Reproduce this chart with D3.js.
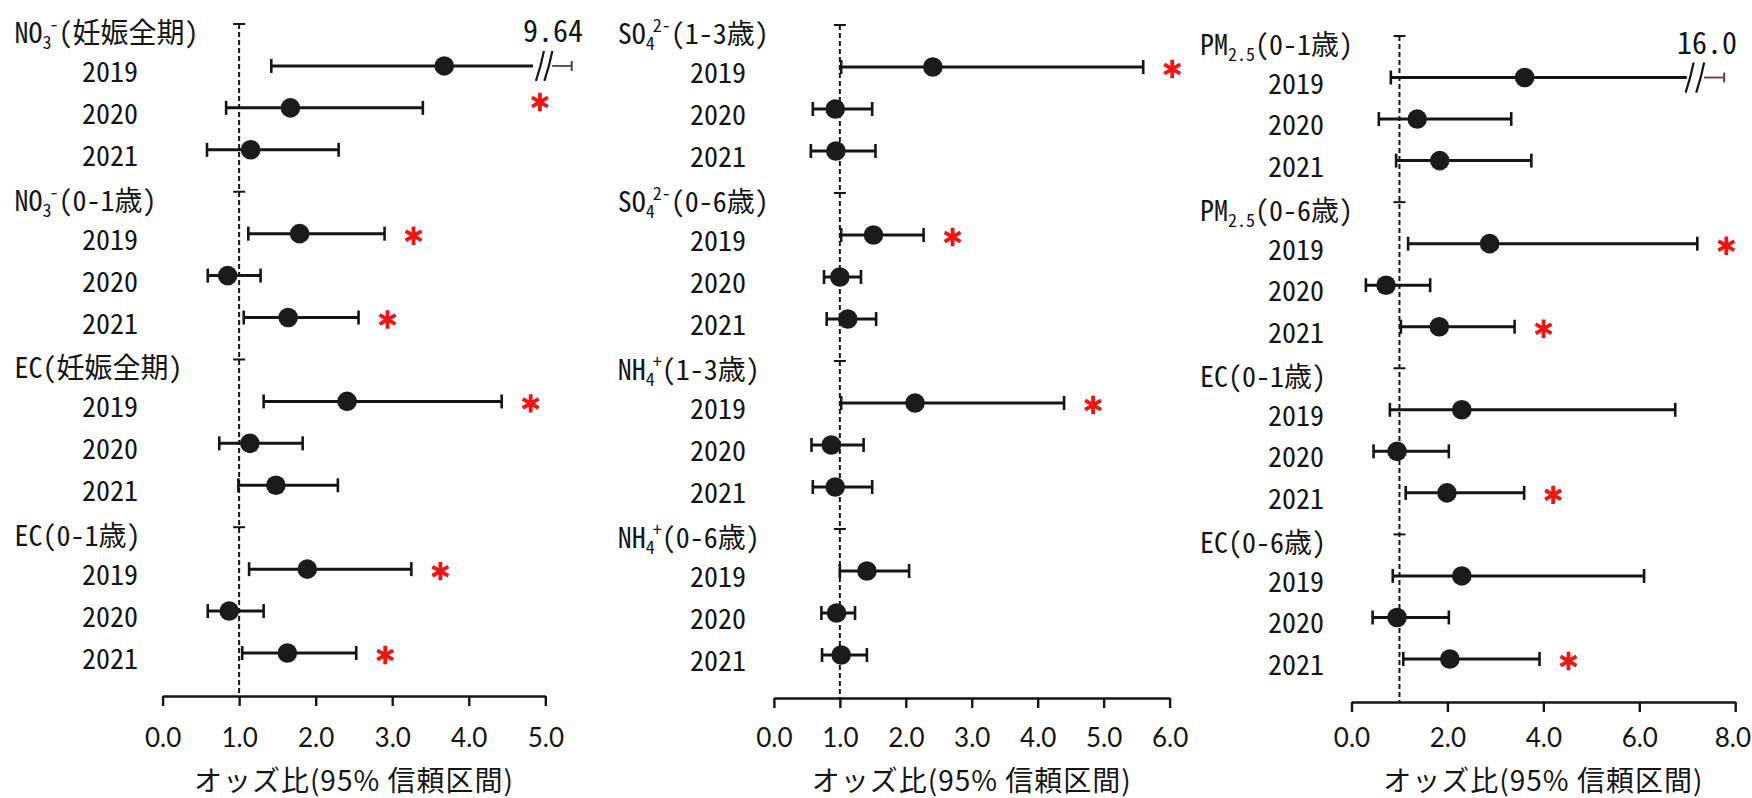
<!DOCTYPE html>
<html lang="ja">
<head>
<meta charset="utf-8">
<script src="https://cdn.jsdelivr.net/npm/d3@7"></script>
<style>
  html, body { margin: 0; padding: 0; background: #ffffff; }
  svg { display: block; }
</style>
</head>
<body>
<svg id="chart" width="1752" height="798"></svg>
<script>
// ---- data -----------------------------------------------------------
const years = ["2019", "2020", "2021"];

// left panel: NO3-, EC
const groupsL = [
  ["NO", "_3", "^-", "(妊娠全期)"],
  ["NO", "_3", "^-", "(0-1歳)"],
  ["EC", "(妊娠全期)"],
  ["EC", "(0-1歳)"]
];
const orL  = [3.68, 1.67, 1.15, 1.79, 0.85, 1.64, 2.41, 1.14, 1.48, 1.89, 0.87, 1.63];
const lowL = [1.42, 0.83, 0.58, 1.12, 0.59, 1.06, 1.32, 0.74, 0.99, 1.13, 0.59, 1.04];
const upL  = [9.64, 3.40, 2.30, 2.90, 1.28, 2.56, 4.43, 1.83, 2.29, 3.25, 1.32, 2.53];
const sigL = [1, 0, 0, 1, 0, 1, 1, 0, 0, 1, 0, 1];
const ticksL = [0, 1, 2, 3, 4, 5];

// middle panel: SO4 2-, NH4+
const groupsM = [
  ["SO", "_4", "^2-", "(1-3歳)"],
  ["SO", "_4", "^2-", "(0-6歳)"],
  ["NH", "_4", "^+", "(1-3歳)"],
  ["NH", "_4", "^+", "(0-6歳)"]
];
const orM  = [2.41, 0.93, 0.94, 1.51, 1.00, 1.12, 2.14, 0.87, 0.93, 1.41, 0.95, 1.02];
const lowM = [1.02, 0.59, 0.56, 1.02, 0.76, 0.80, 1.02, 0.57, 0.59, 1.00, 0.72, 0.73];
const upM  = [5.60, 1.49, 1.54, 2.27, 1.32, 1.55, 4.40, 1.36, 1.49, 2.05, 1.23, 1.41];
const sigM = [1, 0, 0, 1, 0, 0, 1, 0, 0, 0, 0, 0];
const ticksM = [0, 1, 2, 3, 4, 5, 6];

// right panel: PM2.5, EC
const groupsR = [
  ["PM", "_2.5", "(0-1歳)"],
  ["PM", "_2.5", "(0-6歳)"],
  ["EC", "(0-1歳)"],
  ["EC", "(0-6歳)"]
];
const orR  = [3.61, 1.37, 1.84, 2.88, 0.72, 1.83, 2.30, 0.95, 1.99, 2.30, 0.95, 2.05];
const lowR = [0.82, 0.57, 0.93, 1.18, 0.30, 1.03, 0.80, 0.46, 1.13, 0.86, 0.44, 1.08];
const upR  = [16.0, 3.33, 3.75, 7.21, 1.64, 3.40, 6.75, 2.03, 3.60, 6.10, 2.03, 3.92];
const sigR = [0, 0, 0, 1, 0, 1, 0, 0, 1, 0, 0, 1];
const ticksR = [0, 2, 4, 6, 8];

const axisTitle = "オッズ比(95% 信頼区間)";

// ---- layout ---------------------------------------------------------
const panels = [
  { groups: groupsL, or: orL, low: lowL, up: upL, sig: sigL, ticks: ticksL,
    x0: 162.6, x1: 545.3, yTop: 24, yBot: 653, axisY: 696, labelX: 14.5, yearX: 138,
    brk: { lineEnd: 4.84, s1: 4.93, s2: 5.04, from: 5.09, cap: 5.345, label: 5.1 },
    stub: "#3d4178" },
  { groups: groupsM, or: orM, low: lowM, up: upM, sig: sigM, ticks: ticksM,
    x0: 773.9, x1: 1169.6, yTop: 25, yBot: 655, axisY: 698, labelX: 617.8, yearX: 746,
    brk: null },
  { groups: groupsR, or: orR, low: lowR, up: upR, sig: sigR, ticks: ticksR,
    x0: 1351.5, x1: 1735.2, yTop: 36, yBot: 659, axisY: 702, labelX: 1200, yearX: 1324,
    brk: { lineEnd: 6.99, s1: 7.05, s2: 7.27, from: 7.35, cap: 7.77, label: 7.41 },
    stub: "#7b3344" }
];

const labelFont = "'Noto Sans Mono CJK JP', 'Noto Sans CJK JP', sans-serif";
const tickFont = "Lato, 'Open Sans', sans-serif";
const titleFont = "'Noto Sans CJK JP', sans-serif";
const ink = "#151515";
const tickLabelBaseline = 747;
const titleBaseline = 791;
const width = 1752;

const svg = d3.select("#chart");

// header label with sub/superscripts ("_" = subscript, "^" = superscript)
function addSegments(text, segs) {
  let shift = 0;
  let prevSub = false;
  segs.forEach(s => {
    let target = 0, size = 28, txt = s, dx = 0;
    if (s[0] === "_") { target = 6; size = 18; txt = s.slice(1); }
    else if (s[0] === "^") { target = -12; size = 18; txt = s.slice(1); if (prevSub) dx = -2; }
    text.append("tspan")
      .attr("dx", dx)
      .attr("dy", target - shift)
      .style("font-size", size + "px")
      .text(txt);
    shift = target;
    prevSub = s[0] === "_";
  });
}

panels.forEach(p => {
  const g = svg.append("g");
  const maxTick = d3.max(p.ticks);
  const ax = d3.scaleLinear().domain([0, maxTick]).range([p.x0, p.x1]);
  const maxUp = d3.max(p.up);
  // plotting scale: linear up to the break, then compressed to the capped end
  const px = p.brk
    ? d3.scaleLinear().domain([0, p.brk.from, maxUp]).range([ax(0), ax(p.brk.from), ax(p.brk.cap)])
    : ax;
  const y = d3.scaleLinear().domain([0, 15]).range([p.yTop, p.yBot]);

  // reference line at OR = 1
  g.append("line")
    .attr("x1", ax(1)).attr("x2", ax(1))
    .attr("y1", y(0)).attr("y2", p.axisY)
    .attr("stroke", ink).attr("stroke-width", 2)
    .attr("stroke-dasharray", "5,3");

  // x axis
  const axis = d3.axisBottom(ax)
    .tickValues(p.ticks)
    .tickFormat(d3.format(".1f"))
    .tickSizeInner(10)
    .tickSizeOuter(0);
  const axG = g.append("g")
    .attr("transform", `translate(0,${p.axisY})`)
    .call(axis);
  axG.select(".domain").attr("stroke", ink).attr("stroke-width", 2.6);
  axG.selectAll(".tick line").attr("stroke", ink).attr("stroke-width", 2.4);
  axG.selectAll(".tick text")
    .attr("y", tickLabelBaseline - p.axisY)
    .attr("dy", 0)
    .attr("fill", ink)
    .style("font-family", tickFont)
    .style("font-size", "26px")
    .each(function () {
      // keep the outermost label inside the drawing area
      const b = this.getBBox();
      const tx = this.parentNode.transform.baseVal.consolidate().matrix.e;
      const over = tx + b.x + b.width - (width - 1);
      if (over > 0) d3.select(this).attr("dx", -over);
    });

  g.append("text")
    .attr("x", (p.x0 + p.x1) / 2)
    .attr("y", titleBaseline)
    .attr("text-anchor", "middle")
    .attr("fill", ink)
    .style("font-family", titleFont)
    .style("font-size", "28px")
    .style("letter-spacing", "1px")
    .text(axisTitle);

  // group headers
  p.groups.forEach((segs, gi) => {
    const yy = y(gi * 4);
    g.append("line")
      .attr("x1", ax(1) - 6).attr("x2", ax(1) + 6)
      .attr("y1", yy).attr("y2", yy)
      .attr("stroke", ink).attr("stroke-width", 2);
    const t = g.append("text")
      .attr("x", p.labelX)
      .attr("y", yy + 19)
      .attr("fill", ink)
      .style("font-family", labelFont)
      .style("font-size", "28px");
    addSegments(t, segs);
  });

  // rows
  const rows = p.or.map((v, k) => ({
    or: v, low: p.low[k], up: p.up[k], sig: p.sig[k],
    year: years[k % 3], row: Math.floor(k / 3) * 4 + (k % 3) + 1
  }));

  rows.forEach(r => {
    const yy = y(r.row);
    const broken = p.brk && r.up > p.brk.from;

    g.append("text")
      .attr("x", p.yearX)
      .attr("y", yy + 16)
      .attr("text-anchor", "end")
      .attr("fill", ink)
      .style("font-family", labelFont)
      .style("font-size", "28px")
      .text(r.year);

    const xEnd = broken ? ax(p.brk.lineEnd) : px(r.up);
    g.append("line")
      .attr("x1", px(r.low)).attr("x2", xEnd)
      .attr("y1", yy).attr("y2", yy)
      .attr("stroke", ink).attr("stroke-width", 3);
    g.append("line")
      .attr("x1", px(r.low)).attr("x2", px(r.low))
      .attr("y1", yy - 7).attr("y2", yy + 7)
      .attr("stroke", ink).attr("stroke-width", 2.6);

    if (broken) {
      g.append("line")
        .attr("x1", ax(p.brk.from)).attr("x2", px(r.up))
        .attr("y1", yy).attr("y2", yy)
        .attr("stroke", p.stub).attr("stroke-width", 1.8);
      g.append("line")
        .attr("x1", px(r.up)).attr("x2", px(r.up))
        .attr("y1", yy - 5).attr("y2", yy + 5)
        .attr("stroke", p.stub).attr("stroke-width", 2);
      [p.brk.s1, p.brk.s2].forEach(sv => {
        const sx = ax(sv);
        g.append("path")
          .attr("d", `M${sx + 4},${yy - 15} Q${sx + 1},${yy} ${sx - 4},${yy + 15}`)
          .attr("fill", "none")
          .attr("stroke", ink).attr("stroke-width", 2.2);
      });
      g.append("text")
        .attr("x", ax(p.brk.label))
        .attr("y", yy - 24)
        .attr("text-anchor", "middle")
        .attr("fill", ink)
        .style("font-family", labelFont)
        .style("font-size", "30px")
        .text(r.up.toPrecision(3));
    } else {
      g.append("line")
        .attr("x1", px(r.up)).attr("x2", px(r.up))
        .attr("y1", yy - 7).attr("y2", yy + 7)
        .attr("stroke", ink).attr("stroke-width", 2.6);
    }

    g.append("circle")
      .attr("cx", px(r.or)).attr("cy", yy)
      .attr("r", 9.8)
      .attr("fill", "#1b1b1b");

    if (r.sig) {
      const sx = broken ? ax(p.brk.s1) : px(r.up) + 29;
      const sy = broken ? yy + 36 : yy + 2;
      g.append("path")
        .attr("transform", `translate(${sx},${sy})`)
        .attr("d", d3.symbol(d3.symbolAsterisk, 240)())
        .attr("fill", "none")
        .attr("stroke", "#f01414")
        .attr("stroke-width", 3.8);
    }
  });
});
</script>
</body>
</html>
